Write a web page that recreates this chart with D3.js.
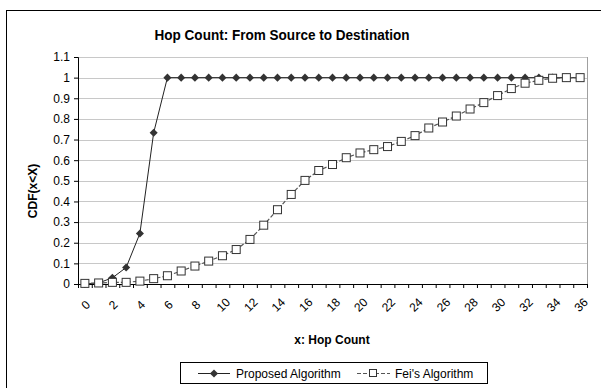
<!DOCTYPE html>
<html>
<head>
<meta charset="utf-8">
<script src="https://cdn.jsdelivr.net/npm/d3@7"></script>
<style>
  body { margin: 0; background: #fff; overflow: hidden; }
  svg { display: block; }
  text { font-family: "Liberation Sans", Arial, sans-serif; fill: #000; }
</style>
</head>
<body>
<div id="chart"></div>
<script>
// data
const hops = d3.range(0, 37);
const proposed = [0, 0.005, 0.03, 0.08, 0.245, 0.733, 1, 1, 1, 1, 1, 1, 1, 1, 1, 1, 1, 1, 1,
    1, 1, 1, 1, 1, 1, 1, 1, 1, 1, 1, 1, 1, 1, 1, 1, 1, 1];
const feis = [0.003, 0.005, 0.008, 0.008, 0.014, 0.026, 0.04, 0.063, 0.087, 0.111, 0.137,
    0.167, 0.216, 0.285, 0.36, 0.434, 0.502, 0.55, 0.579, 0.612, 0.635, 0.651, 0.666, 0.691,
    0.719, 0.756, 0.785, 0.814, 0.848, 0.879, 0.913, 0.947, 0.973, 0.987, 0.997, 1.0, 1.0];
const yTicks = [0, 0.1, 0.2, 0.3, 0.4, 0.5, 0.6, 0.7, 0.8, 0.9, 1, 1.1];
const xLabels = hops.filter(d => d % 2 === 0);

let width = 601;
let height = 388;
let margin = { top: 57, left: 78, right: 14, bottom: 104 };
let chartWidth = 587 - margin.left;
let chartHeight = 284 - margin.top;

const svg = d3.select('#chart').append('svg')
    .attr('width', width)
    .attr('height', height);

// outer chart border
svg.append('rect')
    .attr('x', 6.5).attr('y', 10.5)
    .attr('width', 620).attr('height', 400)
    .attr('fill', 'none').attr('stroke', '#000').attr('stroke-width', 1);

svg.append('text')
    .attr('x', 282).attr('y', 40)
    .attr('text-anchor', 'middle')
    .attr('font-size', 15).attr('font-weight', 'bold')
    .attr('textLength', 255).attr('lengthAdjust', 'spacingAndGlyphs')
    .text('Hop Count: From Source to Destination');

const g = svg.append('g')
    .attr('transform', `translate(${margin.left},${margin.top})`);

const xScale = d3.scaleBand()
    .domain(hops)
    .range([0, chartWidth])
    .padding(0);
const xCenter = d => xScale(d) + xScale.bandwidth() / 2;

const yScale = d3.scaleLinear()
    .domain([0, 1.1])
    .range([chartHeight, 0]);

// gridlines
g.append('g').selectAll('line')
    .data(yTicks.slice(1))
    .join('line')
    .attr('x1', 0).attr('x2', chartWidth)
    .attr('y1', d => Math.round(yScale(d)) + 0.5)
    .attr('y2', d => Math.round(yScale(d)) + 0.5)
    .attr('stroke', '#c8c8c8');

// plot area border (right side)
g.append('line')
    .attr('x1', chartWidth + 0.5).attr('x2', chartWidth + 0.5)
    .attr('y1', 0).attr('y2', chartHeight)
    .attr('stroke', '#a0a0a0');

// y axis
const yAxis = d3.axisLeft(yScale)
    .tickValues(yTicks)
    .tickSize(4)
    .tickFormat(d => d3.format('.1~f')(d));
g.append('g')
    .attr('class', 'y-axis')
    .call(yAxis)
    .call(s => s.selectAll('text').attr('font-size', 12).attr('dx', -1))
    .call(s => s.selectAll('path, line').attr('stroke', '#000'));

// x axis: ticks at category boundaries
const xLin = d3.scaleLinear().domain([0, 37]).range([0, chartWidth]);
g.append('g')
    .attr('transform', `translate(0,${chartHeight})`)
    .call(d3.axisBottom(xLin).tickValues(d3.range(0, 38)).tickSize(4).tickSizeOuter(0).tickFormat(''))
    .call(s => s.selectAll('path, line').attr('stroke', '#000'));

// x labels, rotated about their centre
g.append('g')
    .attr('transform', `translate(0,${chartHeight})`)
    .selectAll('text')
    .data(xLabels)
    .join('text')
    .attr('font-size', 12)
    .attr('text-anchor', 'middle')
    .attr('dominant-baseline', 'central')
    .attr('transform', d => `translate(${xCenter(d) + 1},${21}) rotate(-45)`)
    .text(d => d);

// axis titles
svg.append('text')
    .attr('x', 332).attr('y', 344)
    .attr('text-anchor', 'middle')
    .attr('font-size', 12).attr('font-weight', 'bold')
    .text('x: Hop Count');

svg.append('text')
    .attr('transform', 'translate(37,191) rotate(-90)')
    .attr('text-anchor', 'middle')
    .attr('font-size', 12).attr('font-weight', 'bold')
    .text('CDF(x<X)');

// lines
const line = d3.line()
    .x((d, i) => xCenter(hops[i]))
    .y(d => yScale(d));

g.append('path')
    .datum(proposed)
    .attr('d', line)
    .attr('fill', 'none')
    .attr('stroke', '#222')
    .attr('stroke-width', 1);

const diamond = d3.symbol().type(d3.symbolDiamond2).size(42);
g.append('g').selectAll('path')
    .data(proposed)
    .join('path')
    .attr('d', diamond)
    .attr('transform', (d, i) => `translate(${xCenter(hops[i])},${yScale(d)})`)
    .attr('fill', '#333');

g.append('path')
    .datum(feis)
    .attr('d', line)
    .attr('fill', 'none')
    .attr('stroke', '#555')
    .attr('stroke-width', 1.2)
    .attr('stroke-dasharray', '4,2');

g.append('g').selectAll('rect')
    .data(feis)
    .join('rect')
    .attr('x', (d, i) => xCenter(hops[i]) - 4)
    .attr('y', d => yScale(d) - 4)
    .attr('width', 8).attr('height', 8)
    .attr('fill', '#fff')
    .attr('stroke', '#333')
    .attr('stroke-width', 1);

// legend
const legend = svg.append('g');
legend.append('rect')
    .attr('x', 180.5).attr('y', 362.5)
    .attr('width', 307).attr('height', 21)
    .attr('fill', '#fff').attr('stroke', '#000');

legend.append('line')
    .attr('x1', 198).attr('x2', 230).attr('y1', 373.5).attr('y2', 373.5)
    .attr('stroke', '#222');
legend.append('path')
    .attr('d', diamond)
    .attr('transform', 'translate(214,373.5)')
    .attr('fill', '#333');
legend.append('text')
    .attr('x', 236).attr('y', 378)
    .attr('font-size', 12)
    .text('Proposed Algorithm');

legend.append('line')
    .attr('x1', 357).attr('x2', 390).attr('y1', 373.5).attr('y2', 373.5)
    .attr('stroke', '#555').attr('stroke-dasharray', '4,2');
legend.append('rect')
    .attr('x', 369.5).attr('y', 369.5)
    .attr('width', 7).attr('height', 7)
    .attr('fill', '#fff').attr('stroke', '#333');
legend.append('text')
    .attr('x', 395).attr('y', 378)
    .attr('font-size', 12)
    .text("Fei's Algorithm");
</script>
</body>
</html>
